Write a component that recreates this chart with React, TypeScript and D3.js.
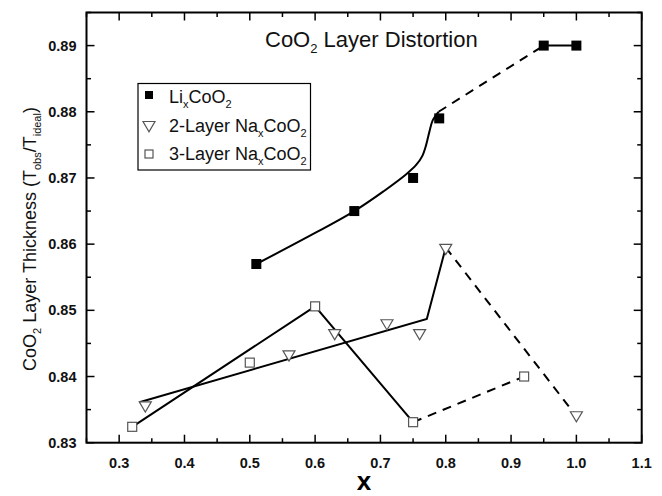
import React from 'react';
import * as d3 from 'd3';

// measured points
const liX = [0.51, 0.66, 0.75, 0.79, 0.95, 1.0];
const liY = [0.857, 0.865, 0.87, 0.879, 0.89, 0.89];
const na2X = [0.34, 0.56, 0.63, 0.71, 0.76, 0.8, 1.0];
const na2Y = [0.8355, 0.8432, 0.8464, 0.8479, 0.8464, 0.8593, 0.834];
const na3X = [0.32, 0.5, 0.6, 0.75, 0.92];
const na3Y = [0.8324, 0.8421, 0.8506, 0.8331, 0.84];

// guide lines drawn over the points
const liFitX = [0.51, 0.585, 0.66, 0.705, 0.74, 0.755, 0.764, 0.77, 0.775, 0.78, 0.789];
const liFitY = [0.857, 0.8609, 0.865, 0.868, 0.8706, 0.872, 0.8733, 0.8750, 0.8770, 0.8787, 0.88];
const liDashX = [0.789, 0.95];
const liDashY = [0.88, 0.89];
const liEndX = [0.95, 1.0];
const liEndY = [0.89, 0.89];
const na2LineX = [0.331, 0.771, 0.8];
const na2LineY = [0.8361, 0.8487, 0.8595];
const na2DashX = [0.8, 1.0];
const na2DashY = [0.8595, 0.834];
const na3LineX = [0.32, 0.6, 0.75];
const na3LineY = [0.8324, 0.8506, 0.8331];
const na3DashX = [0.75, 0.92];
const na3DashY = [0.8331, 0.84];

const xTicks = [0.3, 0.4, 0.5, 0.6, 0.7, 0.8, 0.9, 1.0, 1.1];
const yTicks = [0.83, 0.84, 0.85, 0.86, 0.87, 0.88, 0.89];

const W = 662;
const H = 496;
const left = 86.5;
const right = 641.7;
const top = 12.5;
const bottom = 442.7;
const font = '"Liberation Sans", Arial, Helvetica, sans-serif';
const grey = '#555';

const x = d3.scaleLinear().domain([0.25, 1.1]).range([left, right]);
const y = d3.scaleLinear().domain([0.83, 0.895]).range([bottom, top]);

const zip = (xs: number[], ys: number[]) => xs.map((v, i) => [v, ys[i]] as [number, number]);
const straight = d3.line<[number, number]>().x((d) => x(d[0])).y((d) => y(d[1]));
const smooth = d3
  .line<[number, number]>()
  .x((d) => x(d[0]))
  .y((d) => y(d[1]))
  .curve(d3.curveCatmullRom.alpha(0.5));

const tri = (cx: number, cy: number, s: number) =>
  `M${cx - s},${cy - s * 0.75} L${cx + s},${cy - s * 0.75} L${cx},${cy + s * 0.95} Z`;

export default function App() {
  const xMinor = d3.range(0.25, 1.1001, 0.05);
  const yMinor = d3.range(0.83, 0.8951, 0.005);

  return (
    <svg
      width={W}
      height={H}
      style={{ position: 'absolute', left: 0, top: 0, background: '#fff' }}
      fontFamily={font}
    >
      {/* lines */}
      <g fill="none" stroke="#000" strokeWidth={2}>
        <path d={smooth(zip(liFitX, liFitY)) ?? ''} />
        <path d={straight(zip(liDashX, liDashY)) ?? ''} strokeDasharray="9,7" />
        <path d={straight(zip(liEndX, liEndY)) ?? ''} />
        <path d={straight(zip(na2LineX, na2LineY)) ?? ''} />
        <path d={straight(zip(na2DashX, na2DashY)) ?? ''} strokeDasharray="9,7" />
        <path d={straight(zip(na3LineX, na3LineY)) ?? ''} />
        <path d={straight(zip(na3DashX, na3DashY)) ?? ''} strokeDasharray="9,7" />
      </g>

      {/* markers */}
      {liX.map((v, i) => (
        <rect key={'li' + i} x={x(v) - 5} y={y(liY[i]) - 5} width={10} height={10} fill="#000" />
      ))}
      {na2X.map((v, i) => (
        <path key={'n2' + i} d={tri(x(v), y(na2Y[i]), 6)} fill="#fff" stroke={grey} strokeWidth={1.2} />
      ))}
      {na3X.map((v, i) => (
        <rect
          key={'n3' + i}
          x={x(v) - 4.5}
          y={y(na3Y[i]) - 4.5}
          width={9}
          height={9}
          fill="#fff"
          stroke={grey}
          strokeWidth={1.2}
        />
      ))}

      {/* frame */}
      <rect x={left} y={top} width={right - left} height={bottom - top} fill="none" stroke="#000" strokeWidth={2} />

      {/* ticks */}
      <g stroke="#000" strokeWidth={1.5}>
        {xMinor.map((v, i) => {
          const len = i % 2 === 1 ? 8 : 4.5;
          return (
            <g key={'xt' + i}>
              <line x1={x(v)} x2={x(v)} y1={bottom} y2={bottom - len} />
              <line x1={x(v)} x2={x(v)} y1={top} y2={top + len} />
            </g>
          );
        })}
        {yMinor.map((v, i) => {
          const len = i % 2 === 0 ? 8 : 4.5;
          return (
            <g key={'yt' + i}>
              <line x1={left} x2={left + len} y1={y(v)} y2={y(v)} />
              <line x1={right} x2={right - len} y1={y(v)} y2={y(v)} />
            </g>
          );
        })}
      </g>

      {/* tick labels */}
      {xTicks.map((v) => (
        <text
          key={'xl' + v}
          x={x(v)}
          y={bottom + 25}
          textAnchor="middle"
          fontSize={14.5}
          fontWeight="bold"
          fill="#111"
        >
          {v.toFixed(1)}
        </text>
      ))}
      {yTicks.map((v) => (
        <text
          key={'yl' + v}
          x={left - 10}
          y={y(v) + 5}
          textAnchor="end"
          fontSize={14.5}
          fontWeight="bold"
          fill="#111"
        >
          {v.toFixed(2)}
        </text>
      ))}

      {/* axis titles */}
      <text x={(left + right) / 2} y={490} textAnchor="middle" fontSize={26} fontWeight="bold">
        x
      </text>
      <text transform="translate(36,239) rotate(-90)" textAnchor="middle" fontSize={18} fill="#111">
        CoO<tspan dy={5} fontSize={11}>2</tspan>
        <tspan dy={-5}> Layer Thickness (T</tspan>
        <tspan dy={5} fontSize={11}>obs</tspan>
        <tspan dy={-5}>/T</tspan>
        <tspan dy={5} fontSize={11}>ideal</tspan>
        <tspan dy={-5}>)</tspan>
      </text>

      {/* title */}
      <text x={265} y={47} fontSize={22} fill="#111">
        CoO<tspan dy={6} fontSize={13}>2</tspan>
        <tspan dy={-6}> Layer Distortion</tspan>
      </text>

      {/* legend */}
      <rect x={138} y={83.5} width={172.5} height={86.5} fill="#fff" stroke="#000" strokeWidth={1.2} />
      <rect x={145} y={91} width={8} height={8} fill="#000" />
      <path d={tri(149, 126, 6)} fill="#fff" stroke={grey} strokeWidth={1.2} />
      <rect x={145} y={150} width={8} height={8} fill="#fff" stroke={grey} strokeWidth={1.2} />
      <g fontSize={18} fill="#111">
        <text x={169} y={103}>
          Li<tspan dy={5} fontSize={11}>x</tspan>
          <tspan dy={-5}>CoO</tspan>
          <tspan dy={5} fontSize={11}>2</tspan>
        </text>
        <text x={169} y={132}>
          2-Layer Na<tspan dy={5} fontSize={11}>x</tspan>
          <tspan dy={-5}>CoO</tspan>
          <tspan dy={5} fontSize={11}>2</tspan>
        </text>
        <text x={169} y={160}>
          3-Layer Na<tspan dy={5} fontSize={11}>x</tspan>
          <tspan dy={-5}>CoO</tspan>
          <tspan dy={5} fontSize={11}>2</tspan>
        </text>
      </g>
    </svg>
  );
}
